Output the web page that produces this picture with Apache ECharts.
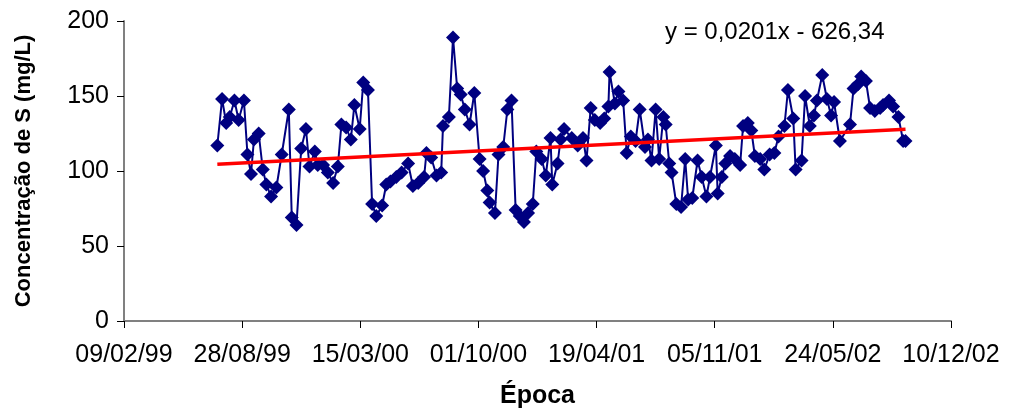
<!DOCTYPE html>
<html>
<head>
<meta charset="utf-8">
<script src="https://cdn.jsdelivr.net/npm/echarts@6/dist/echarts.min.js"></script>
<style>
  html, body { margin: 0; padding: 0; background: #fff; }
  #grafico { width: 1010px; height: 417px; }
</style>
</head>
<body>
<div id="grafico"></div>
<script>
// Época em número de série (dias desde 30/12/1899, como no Excel)
const epocas = [
    36358, 36366, 36373, 36379, 36387, 36394, 36403, 36409, 36415, 36420,
    36428, 36435, 36441, 36449, 36458, 36467, 36479, 36484, 36492, 36500,
    36508, 36514, 36523, 36528, 36537, 36545, 36554, 36562, 36568, 36576,
    36584, 36590, 36599, 36605, 36613, 36620, 36627, 36637, 36644, 36651,
    36661, 36670, 36681, 36689, 36698, 36708, 36712, 36720, 36729, 36737,
    36740, 36750, 36757, 36764, 36770, 36777, 36785, 36793, 36802, 36808,
    36815, 36819, 36828, 36834, 36842, 36849, 36856, 36863, 36870, 36877,
    36884, 36892, 36898, 36907, 36914, 36922, 36925, 36934, 36939, 36945,
    36958, 36968, 36977, 36983, 36990, 36997, 37006, 37013, 37020, 37022,
    37031, 37037, 37045, 37051, 37058, 37066, 37073, 37082, 37087, 37093,
    37100, 37106, 37113, 37117, 37123, 37127, 37135, 37143, 37150, 37155,
    37162, 37171, 37178, 37186, 37192, 37202, 37205, 37212, 37218, 37226,
    37234, 37243, 37248, 37256, 37262, 37268, 37277, 37284, 37293, 37301,
    37308, 37318, 37324, 37333, 37337, 37347, 37353, 37361, 37368, 37373,
    37382, 37390, 37397, 37402, 37412, 37429, 37435, 37443, 37448, 37456,
    37463, 37471, 37480, 37485, 37495, 37502, 37511, 37519, 37523
];

// Concentração de S (mg/L)
const concentracao = [
    117, 148, 132, 136, 147, 134, 147, 111, 98, 121,
    125, 101, 91, 83, 89, 111, 141, 69, 64, 115,
    128, 103, 113, 104, 104, 99, 92, 103, 131, 129,
    121, 144, 128, 159, 154, 78, 70, 77, 91, 93,
    96, 99, 105, 90, 92, 96, 112, 109, 97, 99,
    130, 136, 189, 155, 151, 141, 131, 152, 108, 100,
    87, 79, 72, 111, 116, 141, 147, 74, 70, 66,
    72, 78, 113, 108, 97, 122, 91, 105, 121, 128,
    122, 117, 122, 107, 142, 134, 132, 135, 143, 166,
    145, 153, 147, 112, 123, 120, 141, 116, 121, 107,
    141, 108, 136, 131, 105, 99, 78, 76, 108, 81,
    82, 107, 96, 83, 96, 117, 85, 96, 105, 110,
    108, 104, 130, 132, 127, 110, 108, 101, 111, 112,
    123, 130, 154, 135, 101, 107, 150, 130, 137, 147,
    164, 148, 137, 146, 120, 131, 155, 158, 163, 160,
    142, 140, 142, 144, 147, 143, 136, 120, 120
];

// reta de tendência: y = 0,0201x - 626,34
const declive = 0.0201;
const ordenada = -626.34;

const pontos = epocas.map((x, i) => [x, concentracao[i]]);
const xIni = epocas[0];
const xFim = epocas[epocas.length - 1];
const tendencia = [[xIni, declive * xIni + ordenada], [xFim, declive * xFim + ordenada]];

// converte número de série em dd/mm/aa
function formataData(serie) {
    const d = new Date(Date.UTC(1899, 11, 30) + serie * 86400000);
    const dd = String(d.getUTCDate()).padStart(2, '0');
    const mm = String(d.getUTCMonth() + 1).padStart(2, '0');
    const aa = String(d.getUTCFullYear() % 100).padStart(2, '0');
    return `${dd}/${mm}/${aa}`;
}

const corEixo = '#808080';
const fonte = 'Liberation Sans, Arial, sans-serif';

const chart = echarts.init(document.getElementById('grafico'));
chart.setOption({
    animation: false,
    backgroundColor: '#fff',
    title: {
        text: 'y = 0,0201x - 626,34',
        left: 660,
        top: 15,
        textStyle: { fontFamily: fonte, fontSize: 24, fontWeight: 'normal', color: '#000' }
    },
    grid: { left: 124, right: 59, top: 21, bottom: 96 },
    xAxis: {
        type: 'value',
        min: 36200,
        max: 37600,
        interval: 200,
        name: 'Época',
        nameLocation: 'middle',
        nameGap: 63,
        nameTextStyle: { fontFamily: fonte, fontSize: 25, fontWeight: 'bold', color: '#000' },
        axisLine: { lineStyle: { color: corEixo, width: 2 } },
        axisTick: { length: 7, lineStyle: { color: '#000', width: 1 } },
        axisLabel: {
            margin: 22,
            fontFamily: fonte,
            fontSize: 25,
            color: '#000',
            formatter: v => formataData(v)
        },
        splitLine: { show: false }
    },
    yAxis: {
        type: 'value',
        min: 0,
        max: 200,
        interval: 50,
        name: 'Concentração de S (mg/L)',
        nameLocation: 'middle',
        nameGap: 89,
        nameTextStyle: { fontFamily: fonte, fontSize: 22, fontWeight: 'bold', color: '#000' },
        axisLine: { show: true, lineStyle: { color: corEixo, width: 2 } },
        axisTick: { show: true, length: 7, lineStyle: { color: '#000', width: 1 } },
        axisLabel: { margin: 15, fontFamily: fonte, fontSize: 25, color: '#000' },
        splitLine: { show: false }
    },
    series: [
        {
            type: 'line',
            data: pontos,
            symbol: 'diamond',
            symbolSize: 14,
            itemStyle: { color: '#000080' },
            lineStyle: { color: '#000080', width: 2 },
            z: 2
        },
        {
            type: 'line',
            data: tendencia,
            symbol: 'none',
            lineStyle: { color: '#ff0000', width: 3.5 },
            z: 3
        }
    ]
});
</script>
</body>
</html>
